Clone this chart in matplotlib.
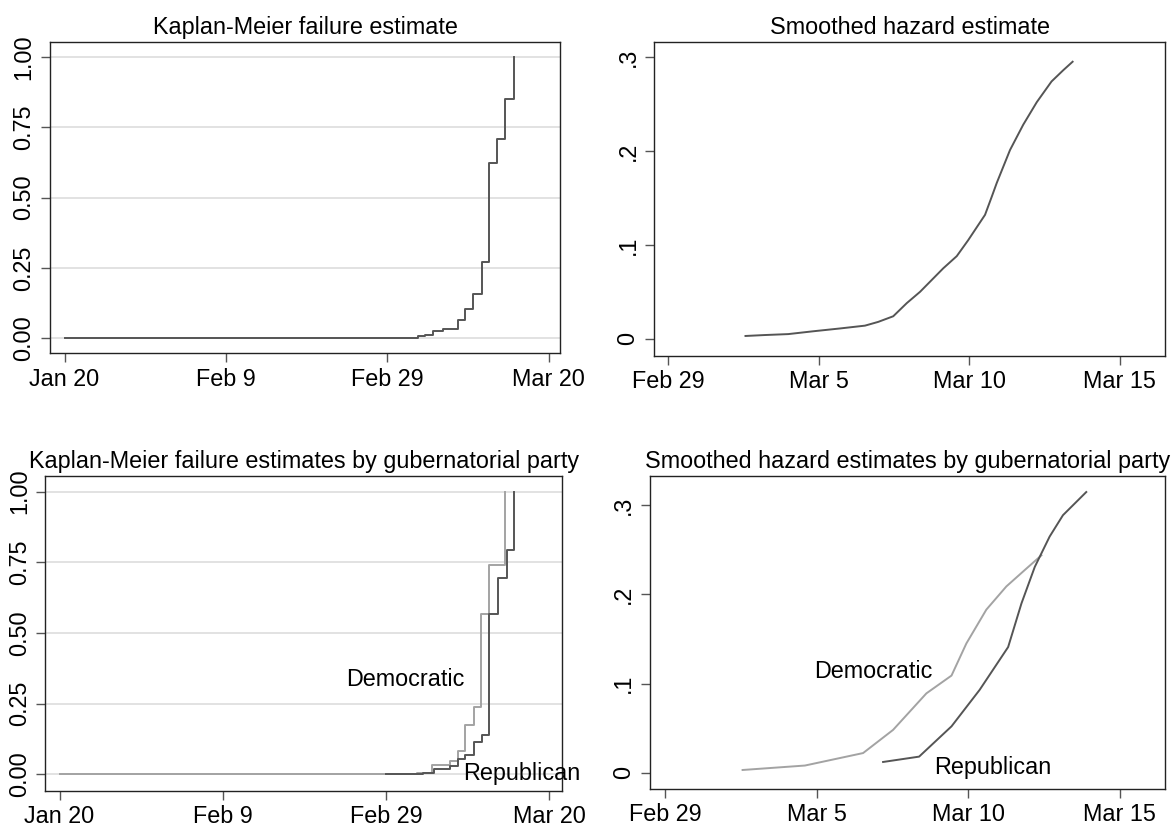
import matplotlib.pyplot as plt

plt.rcParams["font.family"] = ["Liberation Sans", "DejaVu Sans"]
plt.rcParams["font.size"] = 16.8

# x values are days since Jan 20, 2020
date_ticks = [0, 20, 40, 60]
date_labels = ["Jan 20", "Feb 9", "Feb 29", "Mar 20"]
haz_ticks = [40, 45, 50, 55]
haz_labels = ["Feb 29", "Mar 5", "Mar 10", "Mar 15"]

km_ticks = [0, 0.25, 0.5, 0.75, 1.0]
km_labels = ["0.00", "0.25", "0.50", "0.75", "1.00"]
hz_ticks = [0, 0.1, 0.2, 0.3]
hz_labels = ["0", ".1", ".2", ".3"]

# Kaplan-Meier, all states
km_days = [0, 43.8, 44.7, 45.7, 46.9, 48.7, 49.65, 50.6, 51.7, 52.6, 53.6, 54.6, 55.7]
km_fail = [0, 0.006, 0.012, 0.024, 0.031, 0.064, 0.105, 0.157, 0.270, 0.623, 0.707, 0.852, 1.0]

# smoothed hazard, all states
hz_days = [42.56, 43.20, 43.98, 44.81, 45.70, 46.53, 46.97, 47.47, 47.92, 48.36, 49.13,
           49.58, 49.96, 50.52, 50.74, 50.91, 51.35, 51.79, 52.24, 52.73, 53.12, 53.43]
hz_vals = [0.003, 0.004, 0.005, 0.008, 0.011, 0.014, 0.018, 0.024, 0.038, 0.050, 0.075,
           0.088, 0.105, 0.132, 0.151, 0.166, 0.201, 0.228, 0.252, 0.274, 0.286, 0.295]

# Kaplan-Meier by party
km_dem_days = [0, 43.8, 45.7, 47.9, 48.8, 49.7, 50.8, 51.7, 52.7, 54.65]
km_dem_fail = [0, 0.005, 0.032, 0.049, 0.084, 0.174, 0.240, 0.568, 0.740, 1.0]
km_rep_days = [40, 44.6, 45.85, 47.9, 48.8, 49.65, 50.75, 51.8, 52.7, 53.8, 54.8, 55.7]
km_rep_fail = [0, 0.005, 0.019, 0.031, 0.056, 0.070, 0.115, 0.141, 0.568, 0.694, 0.794, 1.0]

# smoothed hazard by party
hz_dem_days = [42.55, 44.61, 46.53, 47.52, 48.62, 49.45, 49.94, 50.60, 51.26, 51.92, 52.42]
hz_dem_vals = [0.003, 0.008, 0.022, 0.048, 0.089, 0.109, 0.145, 0.183, 0.209, 0.229, 0.244]
hz_rep_days = [47.19, 48.38, 49.45, 50.38, 51.32, 51.76, 52.20, 52.69, 53.13, 53.90]
hz_rep_vals = [0.012, 0.018, 0.052, 0.093, 0.141, 0.190, 0.231, 0.265, 0.289, 0.315]

dark = "#555555"
light = "#a3a3a3"
W, H = 1174, 827


def box(l, t, r, b):
    return [l / W, (H - b) / H, (r - l) / W, (b - t) / H]


def style(ax, xticks, xlabels, xlim, yticks, ylabels, ylim, title, grid):
    ax.set_xlim(xlim)
    ax.set_ylim(ylim)
    ax.set_xticks(xticks)
    ax.set_xticklabels(xlabels)
    ax.set_yticks(yticks)
    ax.set_yticklabels(ylabels, rotation=90, va="center")
    ax.tick_params(length=6.5, width=1, color="#555555", pad=4)
    for s in ax.spines.values():
        s.set_linewidth(1)
        s.set_color("#222222")
    if grid:
        ax.grid(axis="y", color="#dddddd", lw=1.2)
        ax.set_axisbelow(True)
    ax.set_title(title, fontsize=16.8, pad=6)


fig = plt.figure(figsize=(11.74, 8.27), dpi=100)

ax1 = fig.add_axes(box(50, 42, 560, 353))
ax1.step(km_days, km_fail, where="post", color=dark, lw=1.4)
style(ax1, date_ticks, date_labels, (-1.8, 61.4), km_ticks, km_labels, (-0.053, 1.054),
      "Kaplan-Meier failure estimate", True)

ax2 = fig.add_axes(box(654, 42, 1165, 355.7))
ax2.plot(hz_days, hz_vals, color=dark, lw=1.4)
style(ax2, haz_ticks, haz_labels, (39.52, 56.5), hz_ticks, hz_labels, (-0.018, 0.316),
      "Smoothed hazard estimate", False)

ax3 = fig.add_axes(box(45.4, 476, 562, 790.8))
ax3.step(km_dem_days, km_dem_fail, where="post", color=light, lw=1.4)
ax3.step(km_rep_days, km_rep_fail, where="post", color=dark, lw=1.4)
ax3.text(42.4, 0.335, "Democratic", ha="center", va="center", fontsize=16.8)
ax3.text(56.7, 0.002, "Republican", ha="center", va="center", fontsize=16.8)
style(ax3, date_ticks, date_labels, (-1.74, 61.6), km_ticks, km_labels, (-0.058, 1.055),
      "Kaplan-Meier failure estimates by gubernatorial party", True)

ax4 = fig.add_axes(box(649.6, 476, 1165, 788.7))
ax4.plot(hz_dem_days, hz_dem_vals, color=light, lw=1.4)
ax4.plot(hz_rep_days, hz_rep_vals, color=dark, lw=1.4)
ax4.text(46.88, 0.114, "Democratic", ha="center", va="center", fontsize=16.8)
ax4.text(50.81, 0.006, "Republican", ha="center", va="center", fontsize=16.8)
style(ax4, haz_ticks, haz_labels, (39.48, 56.5), hz_ticks, hz_labels, (-0.018, 0.333),
      "Smoothed hazard estimates by gubernatorial party", False)

fig.savefig("out.png", dpi=100)
